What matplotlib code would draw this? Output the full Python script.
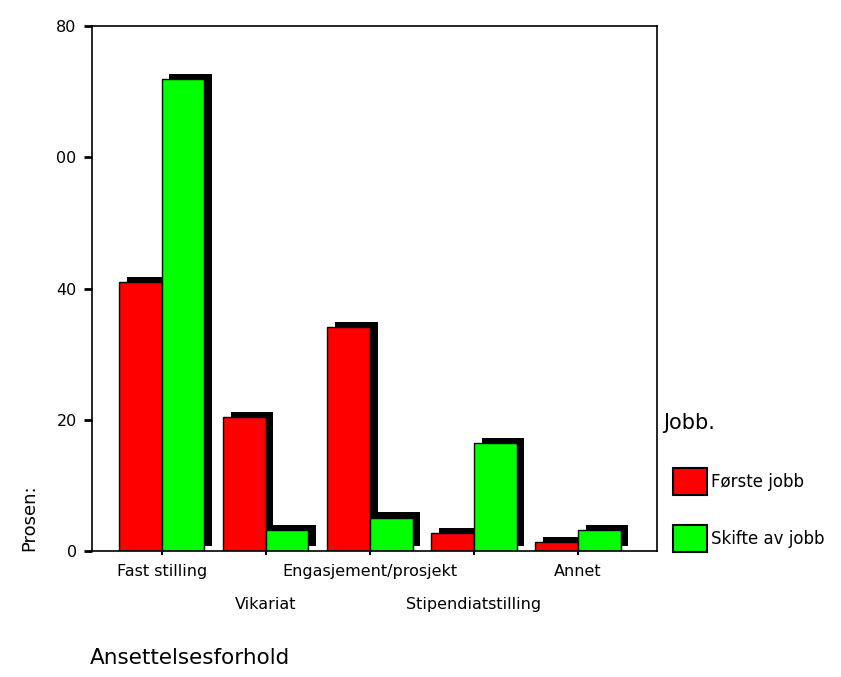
import numpy as np
import matplotlib
matplotlib.use("Agg")
import matplotlib.pyplot as plt
import matplotlib.patheffects as pe
from matplotlib.patches import Patch

kategorier = ['Fast stilling', 'Vikariat', 'Engasjement/prosjekt', 'Stipendiatstilling', 'Annet']
forste_jobb = [41.0, 20.4, 34.1, 2.7, 1.4]
skifte_jobb = [71.9, 3.2, 5.1, 16.4, 3.2]
y_ticks = [0, 20, 40, 60, 80]
y_ticklabels = ['0', '20', '40', '00', '80']

plt.rcParams['font.family'] = ['DejaVu Sans']

fig = plt.figure(figsize=(8.41, 6.77), dpi=100)
ax = fig.add_axes([0.1094, 0.1861, 0.672, 0.7755])

x = np.arange(len(kategorier))
w = 0.41
skygge = [pe.SimplePatchShadow(offset=(5.5, 3.8), shadow_rgbFace='black', alpha=1.0), pe.Normal()]

ax.bar(x - w / 2, forste_jobb, w, color='#ff0000', edgecolor='black', linewidth=1,
       path_effects=skygge)
ax.bar(x + w / 2, skifte_jobb, w, color='#00ff00', edgecolor='black', linewidth=1,
       path_effects=skygge)

ax.set_xlim(-0.67, 4.76)
ax.set_ylim(0, 80)
ax.set_yticks(y_ticks)
ax.set_yticklabels(y_ticklabels, fontsize=11.5)

# annenhver kategori paa andre linje
ax.set_xticks(x[::2])
ax.set_xticklabels(kategorier[::2], fontsize=11.5)
ax.set_xticks(x[1::2], minor=True)
ax.set_xticklabels(kategorier[1::2], minor=True, fontsize=11.5)
ax.tick_params(axis='y', length=6, width=2, pad=5)
ax.tick_params(axis='x', which='major', length=3, width=1.5, pad=6)
ax.tick_params(axis='x', which='minor', length=3, width=1.5, pad=30)
for s in ax.spines.values():
    s.set_linewidth(1.2)

ax.set_ylabel('Prosen:', fontsize=13, loc='bottom', labelpad=13)
fig.text(0.107, 0.014, 'Ansettelsesforhold', fontsize=15.5, ha='left', va='bottom')

fig.text(663 / 841, 1 - 423 / 677, 'Jobb.', fontsize=15, ha='left', va='center')
handles = [Patch(facecolor='#ff0000', edgecolor='black', linewidth=1.5),
           Patch(facecolor='#00ff00', edgecolor='black', linewidth=1.5)]
fig.legend(handles, ['Første jobb', 'Skifte av jobb'],
           loc='upper left', bbox_to_anchor=(673 / 841, 1 - 468 / 677), frameon=False,
           fontsize=12, handlelength=2.05, handleheight=2.11, labelspacing=1.82,
           handletextpad=0.25, borderaxespad=0, borderpad=0)

fig.savefig('out.png', dpi=100)
